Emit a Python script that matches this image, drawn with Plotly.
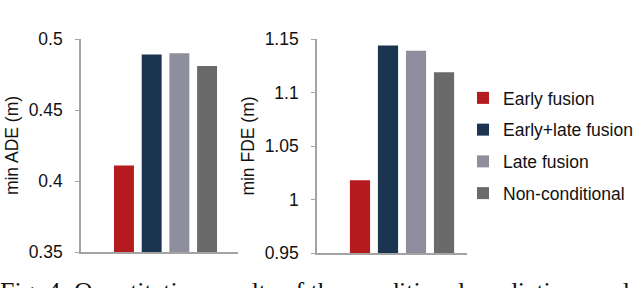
import plotly.graph_objects as go

series = ["Early fusion", "Early+late fusion", "Late fusion", "Non-conditional"]
colors = ["#B51A1E", "#1B3450", "#8E8E9C", "#6A6A6A"]
ade = [0.411, 0.489, 0.490, 0.481]
fde = [1.018, 1.144, 1.139, 1.119]
ade_ticks = [0.35, 0.4, 0.45, 0.5]
fde_ticks = [0.95, 1.0, 1.05, 1.1, 1.15]
ade_ticktext = ["0.35", "0.4", "0.45", "0.5"]
fde_ticktext = ["0.95", "1", "1.05", "1.1", "1.15"]
caption = "Fig. 4: Quantitative results of the conditional prediction module"

W, H = 640, 288
FONT = "Liberation Sans, Arial, sans-serif"

fig = go.Figure()
for i, name in enumerate(series):
    fig.add_trace(go.Bar(x=[""], y=[ade[i]], name=name, marker_color=colors[i],
                         marker_line_width=0, xaxis="x", yaxis="y",
                         legendgroup=name, showlegend=True))
    fig.add_trace(go.Bar(x=[""], y=[fde[i]], name=name, marker_color=colors[i],
                         marker_line_width=0, xaxis="x2", yaxis="y2",
                         legendgroup=name, showlegend=False))

def px_dom(a, b, total):
    return [a / total, b / total]

axis_line = dict(showline=True, linecolor="#A3A3A3", linewidth=1.6, automargin=False)
yax_common = dict(ticks="outside", ticklen=4, tickcolor="#A3A3A3", tickwidth=1.3,
                  showgrid=False, zeroline=False, tickfont=dict(size=17.5, family=FONT, color="#111"),
                  title_font=dict(size=17.5, family=FONT, color="#111"), ticklabelstandoff=9, **axis_line)
xax_common = dict(showgrid=False, zeroline=False, showticklabels=False, ticks="", **axis_line)

fig.update_layout(
    width=W, height=H,
    margin=dict(l=0, r=0, t=0, b=0, autoexpand=False),
    paper_bgcolor="white", plot_bgcolor="white",
    barmode="group", bargap=0.3, bargroupgap=0.28,
    font=dict(family=FONT, size=17, color="#111"),
    xaxis=dict(domain=px_dom(81, 238, W), range=[-0.534, 0.458], anchor="y", **xax_common),
    yaxis=dict(domain=[1 - 252 / H, 1 - 39 / H], range=[0.35, 0.5], tickvals=ade_ticks,
               ticktext=ade_ticktext, title=dict(text="min ADE (m)", standoff=6), anchor="x", **yax_common),
    xaxis2=dict(domain=px_dom(317, 467, W), range=[-0.531, 0.406], anchor="y2", **xax_common),
    yaxis2=dict(domain=[1 - 253 / H, 1 - 39 / H], range=[0.95, 1.15], tickvals=fde_ticks,
                ticktext=fde_ticktext, title=dict(text="min FDE (m)", standoff=6), anchor="x2", **yax_common),
    legend=dict(x=463 / W, y=1 - 80 / H, xanchor="left", yanchor="top",
                font=dict(size=17.5, family=FONT, color="#111"), tracegroupgap=6,
                bgcolor="rgba(0,0,0,0)"),
    showlegend=True,
)

fig.add_annotation(text=caption, xref="paper", yref="paper", x=-2 / W, y=1 - 274.5 / H,
                   xanchor="left", yanchor="top", showarrow=False,
                   font=dict(family="Liberation Serif, Times New Roman, serif", size=25.9, color="#111"))

fig.write_html("out.html", config={"displayModeBar": False},
               post_script="document.body.style.margin='0';")
